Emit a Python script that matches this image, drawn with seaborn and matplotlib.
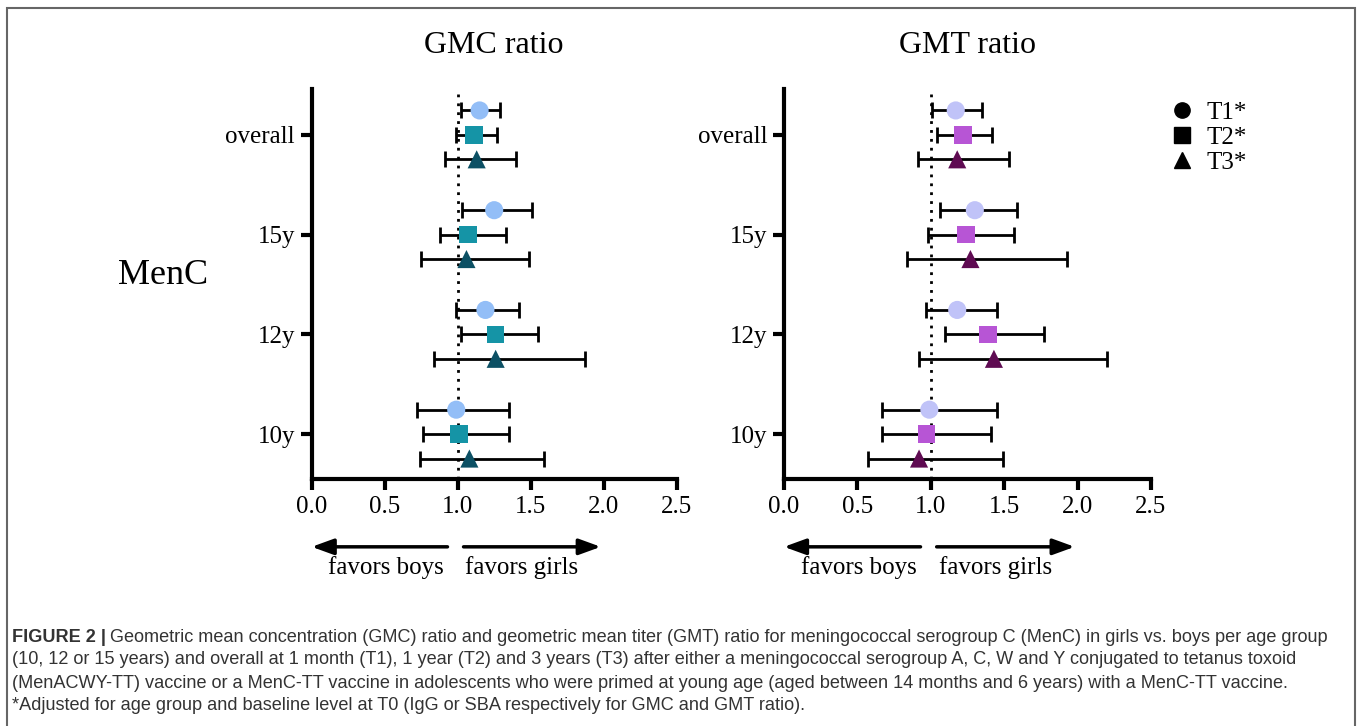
import matplotlib
matplotlib.use("Agg")
import matplotlib.pyplot as plt
import seaborn as sns
import pandas as pd
from matplotlib.lines import Line2D
from matplotlib.patches import Rectangle

# Age groups (bottom to top) and time points
groups = ["10y", "12y", "15y", "overall"]
timepoints = ["T1*", "T2*", "T3*"]

# GMC ratio (point estimate, lower CI, upper CI)
gmc_t1 = [0.99, 1.19, 1.25, 1.15]
gmc_t1_lo = [0.72, 0.99, 1.03, 1.02]
gmc_t1_hi = [1.35, 1.42, 1.51, 1.29]
gmc_t2 = [1.01, 1.26, 1.07, 1.11]
gmc_t2_lo = [0.76, 1.02, 0.88, 0.99]
gmc_t2_hi = [1.35, 1.55, 1.33, 1.27]
gmc_t3 = [1.08, 1.26, 1.06, 1.13]
gmc_t3_lo = [0.74, 0.84, 0.75, 0.91]
gmc_t3_hi = [1.59, 1.87, 1.49, 1.40]

# GMT ratio
gmt_t1 = [0.99, 1.18, 1.30, 1.17]
gmt_t1_lo = [0.67, 0.97, 1.06, 1.01]
gmt_t1_hi = [1.45, 1.45, 1.59, 1.35]
gmt_t2 = [0.97, 1.39, 1.24, 1.22]
gmt_t2_lo = [0.67, 1.10, 0.98, 1.04]
gmt_t2_hi = [1.41, 1.77, 1.57, 1.42]
gmt_t3 = [0.92, 1.43, 1.27, 1.18]
gmt_t3_lo = [0.57, 0.92, 0.84, 0.91]
gmt_t3_hi = [1.49, 2.20, 1.93, 1.53]

x_ticks = [0.0, 0.5, 1.0, 1.5, 2.0, 2.5]

gmc_colors = ["#93BEF7", "#1594A6", "#0C5064"]
gmt_colors = ["#C0C3F8", "#B755D5", "#5F0B52"]
markers = ["o", "s", "^"]
marker_sizes = [170, 160, 170]
offsets = [0.245, 0.0, -0.245]

caption_1 = ("Geometric mean concentration (GMC) ratio and geometric mean titer (GMT) ratio for "
             "meningococcal serogroup C (MenC) in girls vs. boys per age group")
caption_2 = ("(10, 12 or 15 years) and overall at 1 month (T1), 1 year (T2) and 3 years (T3) after either "
             "a meningococcal serogroup A, C, W and Y conjugated to tetanus toxoid")
caption_3 = ("(MenACWY-TT) vaccine or a MenC-TT vaccine in adolescents who were primed at young age "
             "(aged between 14 months and 6 years) with a MenC-TT vaccine.")
caption_4 = "*Adjusted for age group and baseline level at T0 (IgG or SBA respectively for GMC and GMT ratio)."


def build_frame(est, lo, hi):
    rows = []
    for t, tp in enumerate(timepoints):
        for g, grp in enumerate(groups):
            rows.append({"group": grp, "time": tp, "ratio": est[t][g],
                         "lo": lo[t][g], "hi": hi[t][g], "ypos": g + offsets[t]})
    return pd.DataFrame(rows)


gmc_df = build_frame([gmc_t1, gmc_t2, gmc_t3], [gmc_t1_lo, gmc_t2_lo, gmc_t3_lo],
                     [gmc_t1_hi, gmc_t2_hi, gmc_t3_hi])
gmt_df = build_frame([gmt_t1, gmt_t2, gmt_t3], [gmt_t1_lo, gmt_t2_lo, gmt_t3_lo],
                     [gmt_t1_hi, gmt_t2_hi, gmt_t3_hi])

sns.set_theme(style="ticks")
plt.rcParams['font.family'] = ['Liberation Serif', 'DejaVu Serif']
plt.rcParams['text.color'] = 'black'

fig = plt.figure(figsize=(13.6, 7.26), dpi=100)
ax_l = fig.add_axes([311.7 / 1360, 1 - 479 / 726, 365 / 1360, 390 / 726])
ax_r = fig.add_axes([784 / 1360, 1 - 479 / 726, 367 / 1360, 390 / 726])


def draw_panel(ax, df, colors, title):
    ax.axvline(1.0, color="black", linestyle=(0, (1, 2.2)), lw=2, zorder=1)
    for t, tp in enumerate(timepoints):
        sub = df[df["time"] == tp]
        ax.errorbar(sub["ratio"], sub["ypos"],
                    xerr=[sub["ratio"] - sub["lo"], sub["hi"] - sub["ratio"]],
                    fmt="none", ecolor="black", elinewidth=2, capsize=6, capthick=2, zorder=2)
    sns.scatterplot(data=df, x="ratio", y="ypos", hue="time", style="time",
                    palette=colors, markers=dict(zip(timepoints, markers)),
                    size="time", sizes=dict(zip(timepoints, marker_sizes)),
                    edgecolor="none", legend=False, ax=ax, zorder=3)
    ax.set_xlim(0, 2.5)
    ax.set_ylim(-0.45, 3.46)
    ax.set_xticks(x_ticks)
    ax.set_xticklabels([f"{v:.1f}" for v in x_ticks])
    ax.set_yticks(range(len(groups)))
    ax.set_yticklabels(groups)
    ax.set_xlabel("")
    ax.set_ylabel("")
    sns.despine(ax=ax)
    for side in ["left", "bottom"]:
        ax.spines[side].set_linewidth(3)
        ax.spines[side].set_color("black")
    ax.tick_params(axis="both", width=3, length=8, labelsize=18, colors="black", pad=4)
    ax.set_title(title, fontsize=23, pad=26, color="black")

    # favors boys / favors girls arrows
    head = "-|>,head_length=1.1,head_width=0.4"
    ax.annotate("", xy=(0.0, -1.13), xytext=(0.93, -1.13), annotation_clip=False,
                arrowprops=dict(arrowstyle=head, lw=2.5, color="black", shrinkA=0, shrinkB=0))
    ax.annotate("", xy=(1.98, -1.13), xytext=(1.04, -1.13), annotation_clip=False,
                arrowprops=dict(arrowstyle=head, lw=2.5, color="black", shrinkA=0, shrinkB=0))
    ax.text(0.51, -1.34, "favors boys", ha="center", va="center", fontsize=18, clip_on=False)
    ax.text(1.44, -1.34, "favors girls", ha="center", va="center", fontsize=18, clip_on=False)


draw_panel(ax_l, gmc_df, gmc_colors, "GMC ratio")
draw_panel(ax_r, gmt_df, gmt_colors, "GMT ratio")

fig.text(163 / 1360, 1 - 275 / 726, "MenC", fontsize=26, ha="center", va="center")

handles = [Line2D([], [], marker=m, color="black", linestyle="none", markersize=11) for m in markers]
fig.legend(handles, timepoints, loc="upper left", bbox_to_anchor=(1154 / 1360, 1 - 89 / 726),
           frameon=False, fontsize=18, labelspacing=0.1, handletextpad=0.4, borderpad=0,
           handlelength=1.2)

# outer frame
fig.patches.append(Rectangle((7 / 1360, -0.05), 1348 / 1360, 1.05 - 8 / 726, transform=fig.transFigure,
                             fill=False, edgecolor="#666666", lw=1.5))

# caption
cap_kw = dict(fontsize=13.1, family="Liberation Sans", color="#333333", va="center")
bold = fig.text(12 / 1360, 1 - 637 / 726, "FIGURE 2 |", fontweight="bold", **cap_kw)
fig.canvas.draw()
bb = bold.get_window_extent(renderer=fig.canvas.get_renderer())
fig.text((bb.x1 + 4) / 1360, 1 - 637 / 726, caption_1, **cap_kw)
fig.text(12 / 1360, 1 - 660 / 726, caption_2, **cap_kw)
fig.text(12 / 1360, 1 - 683 / 726, caption_3, **cap_kw)
fig.text(12 / 1360, 1 - 706 / 726, caption_4, **cap_kw)

fig.savefig("out.png", dpi=100)
